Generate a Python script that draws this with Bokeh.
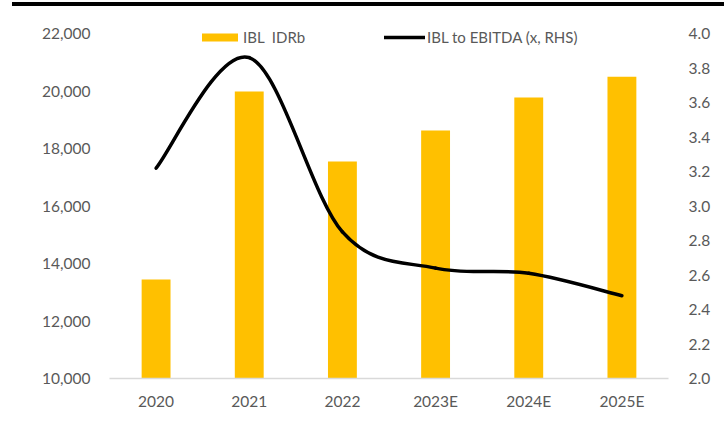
from bokeh.plotting import figure
from bokeh.layouts import column
from bokeh.models import (Range1d, LinearAxis, FixedTicker, NumeralTickFormatter,
                          Legend, LegendItem, Div)
from bokeh.embed import file_html
from bokeh.resources import INLINE

years = ["2020", "2021", "2022", "2023E", "2024E", "2025E"]
ibl_idrb = [13440, 19980, 17550, 18630, 19770, 20500]
ibl_to_ebitda = [3.22, 3.86, 2.85, 2.64, 2.61, 2.48]
left_ticks = [10000, 12000, 14000, 16000, 18000, 20000, 22000]
right_ticks = [2.0, 2.2, 2.4, 2.6, 2.8, 3.0, 3.2, 3.4, 3.6, 3.8, 4.0]

FONT = "Lato"
GREY = "#595959"
BAR = "#FFC000"

# layout (pixels)
AXIS_H = 345      # pixel height from lowest to highest tick
TOP_PAD = 13      # extra frame space above the top tick (for the legend)
FRAME_H = AXIS_H + TOP_PAD

xs = list(range(len(years)))

lo, hi = left_ticks[0], left_ticks[-1]
rlo, rhi = right_ticks[0], right_ticks[-1]
y_top = hi + TOP_PAD * (hi - lo) / AXIS_H
r_top = rhi + TOP_PAD * (rhi - rlo) / AXIS_H

p = figure(frame_width=559, frame_height=FRAME_H, output_backend="svg",
           toolbar_location=None, x_range=Range1d(-0.5, len(years) - 0.5),
           y_range=Range1d(lo, y_top),
           min_border_left=109, min_border_right=50, min_border_top=14,
           min_border_bottom=40)
p.outline_line_color = None
p.background_fill_color = "white"
p.border_fill_color = "white"
p.xgrid.visible = False
p.ygrid.visible = False

p.extra_y_ranges = {"right": Range1d(rlo, r_top)}
raxis = LinearAxis(y_range_name="right")
p.add_layout(raxis, "right")

for ax in [p.yaxis[0], raxis]:
    ax.axis_line_color = None
    ax.major_tick_line_color = None
    ax.minor_tick_line_color = None
    ax.major_tick_out = 0
    ax.major_label_text_font = FONT
    ax.major_label_text_font_size = "15.5px"
    ax.major_label_text_color = GREY
p.yaxis[0].ticker = FixedTicker(ticks=left_ticks)
p.yaxis[0].formatter = NumeralTickFormatter(format="0,0")
p.yaxis[0].major_label_standoff = 19
raxis.ticker = FixedTicker(ticks=right_ticks)
raxis.formatter = NumeralTickFormatter(format="0.0")
raxis.major_label_standoff = 20

xa = p.xaxis[0]
xa.ticker = FixedTicker(ticks=xs)
xa.major_label_overrides = {i: y for i, y in enumerate(years)}
xa.axis_line_color = "#D9D9D9"
xa.axis_line_width = 1.5
xa.major_tick_line_color = None
xa.minor_tick_line_color = None
xa.major_tick_out = 0
xa.major_label_standoff = 13
xa.major_label_text_font = FONT
xa.major_label_text_font_size = "15.5px"
xa.major_label_text_color = GREY

bars = p.vbar(x=xs, top=ibl_idrb, bottom=lo, width=0.31,
              fill_color=BAR, line_color=None)

# Smoothed line (Catmull-Rom Bezier through the data points, as Excel smooths)
n = len(xs)
x0, y0, x1, y1, cx0, cy0, cx1, cy1 = [], [], [], [], [], [], [], []
for i in range(n - 1):
    pm = (xs[max(i - 1, 0)], ibl_to_ebitda[max(i - 1, 0)])
    pa = (xs[i], ibl_to_ebitda[i])
    pb = (xs[i + 1], ibl_to_ebitda[i + 1])
    pp = (xs[min(i + 2, n - 1)], ibl_to_ebitda[min(i + 2, n - 1)])
    x0.append(pa[0]); y0.append(pa[1]); x1.append(pb[0]); y1.append(pb[1])
    cx0.append(pa[0] + (pb[0] - pm[0]) / 6); cy0.append(pa[1] + (pb[1] - pm[1]) / 6)
    cx1.append(pb[0] - (pp[0] - pa[0]) / 6); cy1.append(pb[1] - (pp[1] - pa[1]) / 6)
line = p.bezier(x0=x0, y0=y0, x1=x1, y1=y1, cx0=cx0, cy0=cy0, cx1=cx1, cy1=cy1,
                line_color="black", line_width=3.5, line_cap="round",
                y_range_name="right")


def mk_legend(item, loc, gw, gh, standoff):
    lg = Legend(items=[item], location=loc, orientation="horizontal",
                glyph_width=gw, glyph_height=gh, label_standoff=standoff,
                padding=0, margin=0, spacing=0, border_line_color=None,
                background_fill_alpha=0, label_text_font=FONT,
                label_text_font_size="15px", label_text_color=GREY,
                label_height=14)
    p.add_layout(lg, "center")


mk_legend(LegendItem(label="IBL\u00a0\u00a0IDRb", renderers=[bars]), (88, 332), 45, 10, 1)
mk_legend(LegendItem(label="IBL to EBITDA (x, RHS)", renderers=[line]), (275, 332), 41, 10, 2)

# thick black rule across the top of the page
rule = Div(text="", width=712, height=4, margin=(2, 0, 0, 12),
           styles={"background-color": "black"})

layout = column(rule, p, spacing=0)

open("out.html", "w").write(file_html(layout, INLINE))
